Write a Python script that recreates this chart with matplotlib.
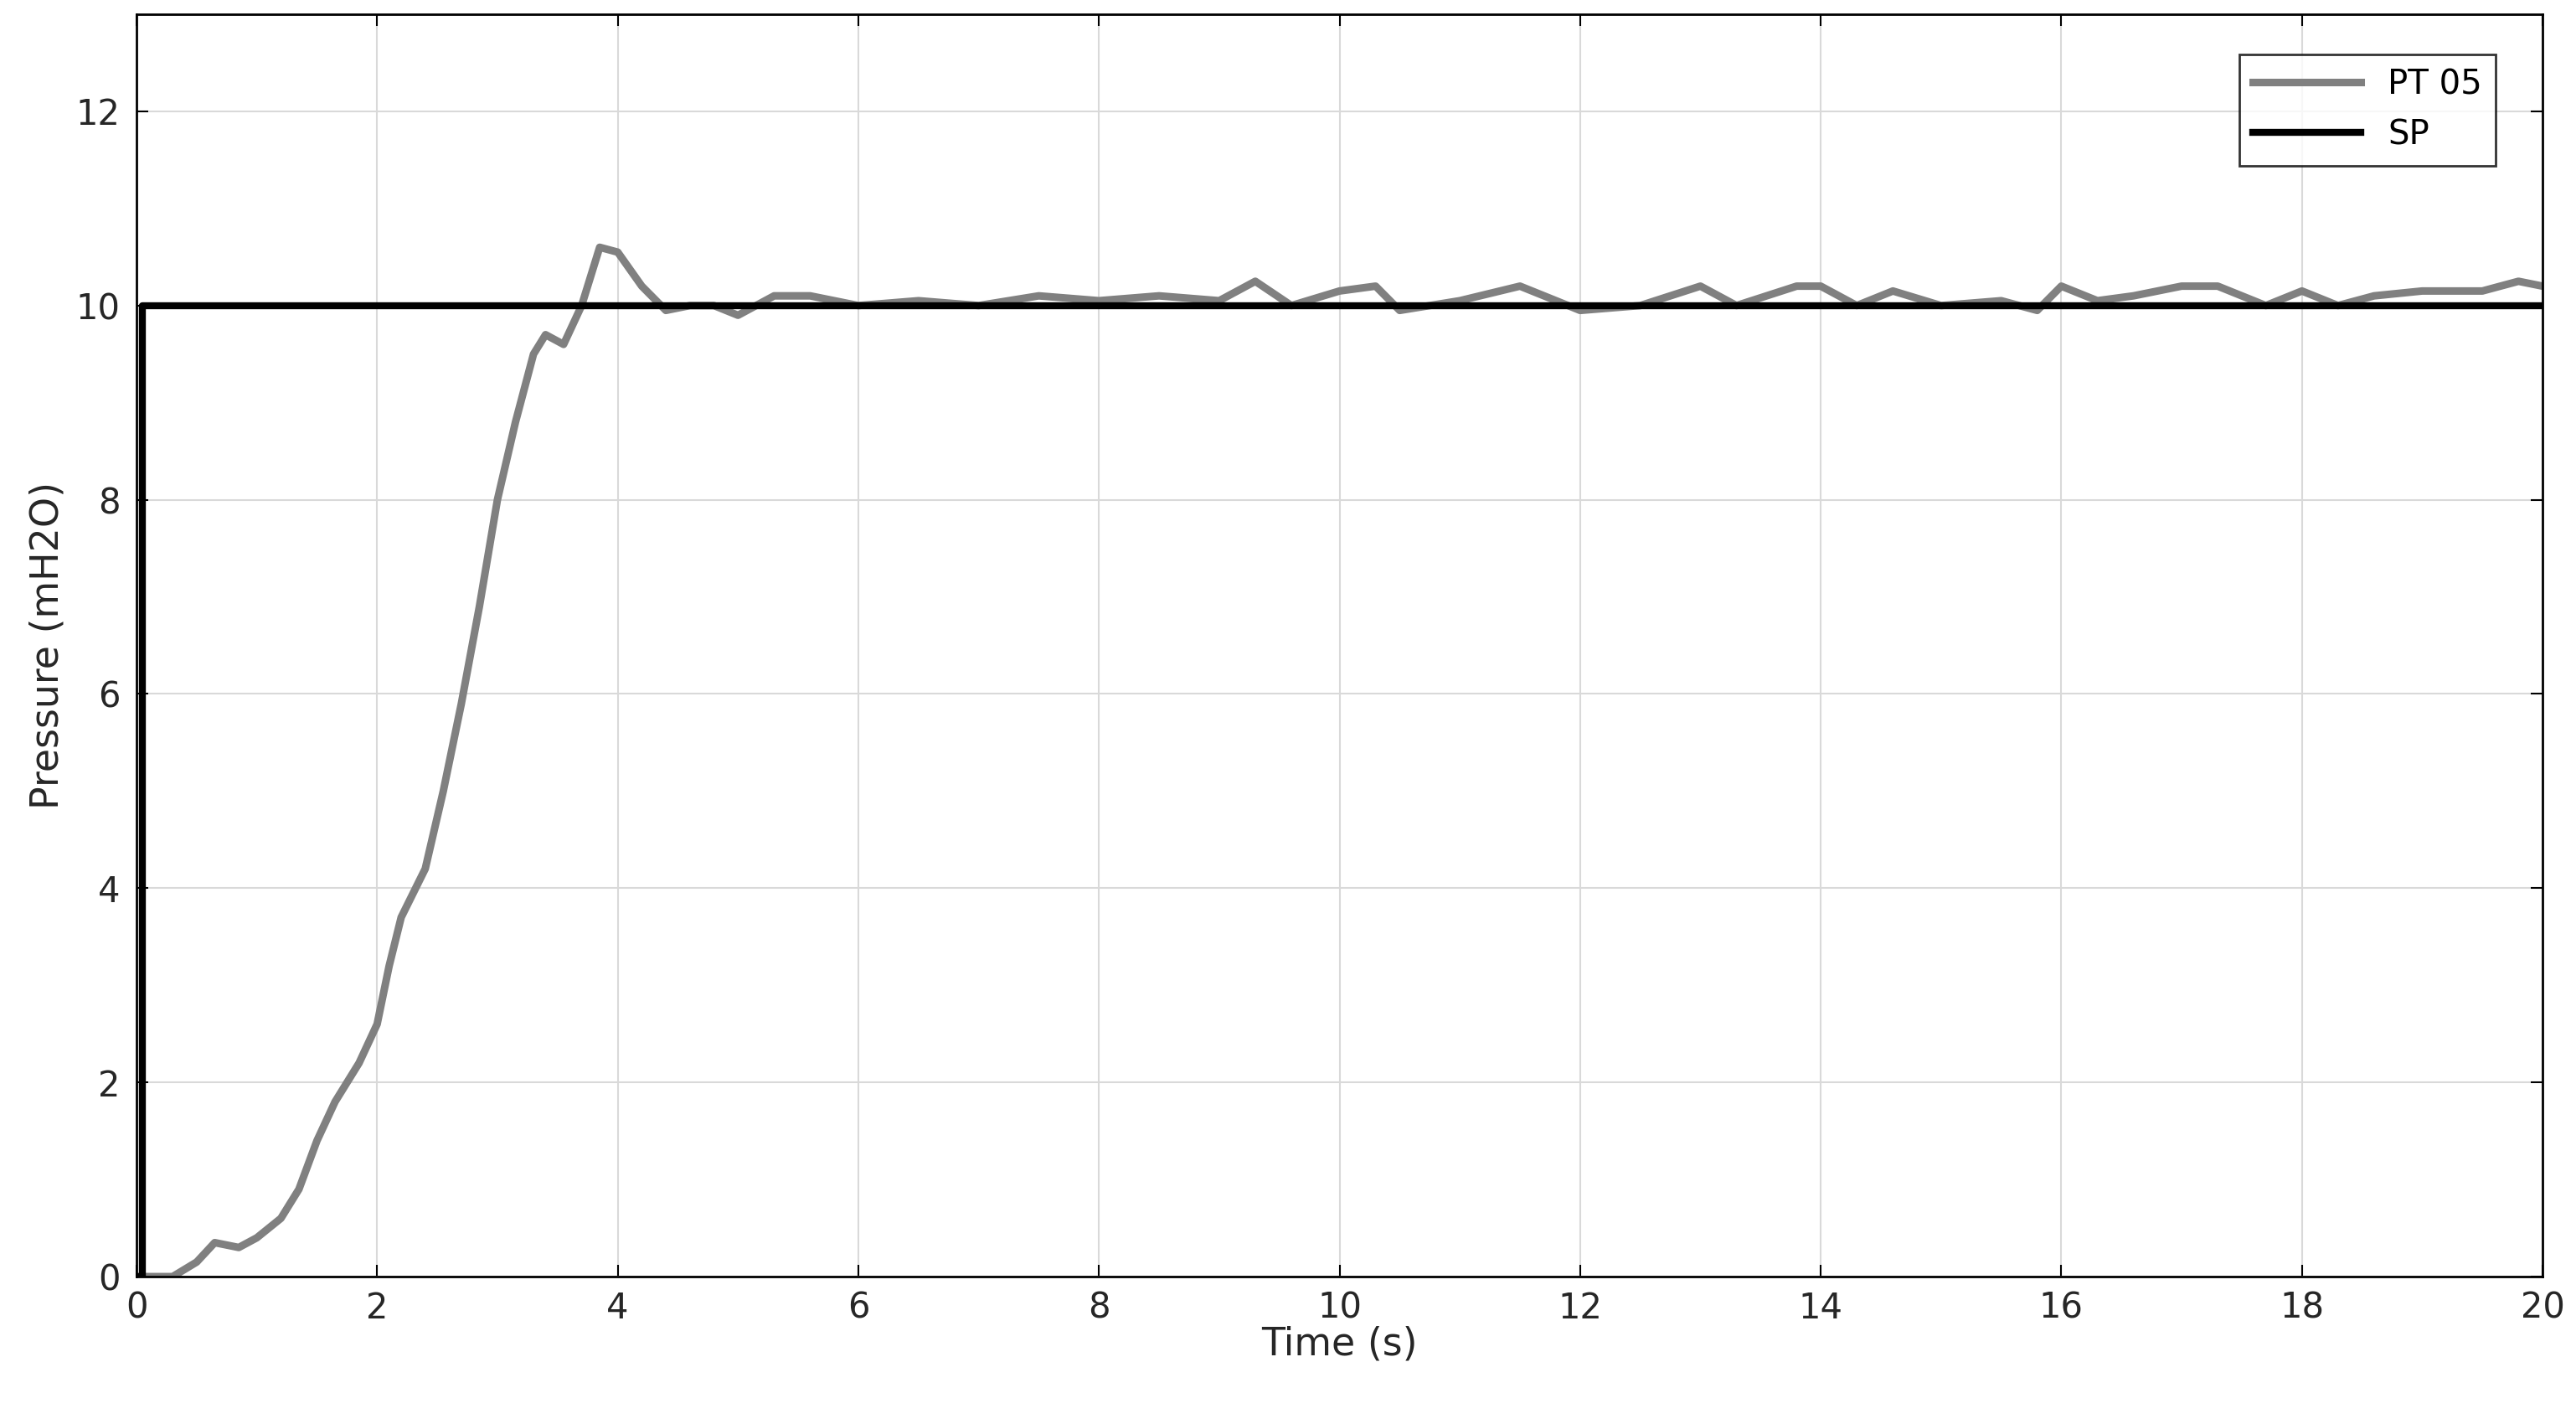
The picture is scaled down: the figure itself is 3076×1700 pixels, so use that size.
import matplotlib
matplotlib.use("Agg")
import matplotlib.pyplot as plt

pt_t = [0, 0.3, 0.5, 0.65, 0.85, 1.0, 1.2, 1.35, 1.5, 1.65, 1.85, 2.0, 2.1, 2.2, 2.4, 2.55, 2.7, 2.85, 3.0, 3.15, 3.3, 3.4, 3.55, 3.7, 3.85, 4.0, 4.2, 4.4, 4.6, 4.8, 5.0, 5.3, 5.6, 6.0, 6.5, 7.0, 7.5, 8.0, 8.5, 9.0, 9.3, 9.6, 10.0, 10.3, 10.5, 11.0, 11.5, 12.0, 12.5, 13.0, 13.3, 13.8, 14.0, 14.3, 14.6, 15.0, 15.5, 15.8, 16.0, 16.3, 16.6, 17.0, 17.3, 17.7, 18.0, 18.3, 18.6, 19.0, 19.5, 19.8, 20.0]
pt_v = [0, 0, 0.15, 0.35, 0.3, 0.4, 0.6, 0.9, 1.4, 1.8, 2.2, 2.6, 3.2, 3.7, 4.2, 5.0, 5.9, 6.9, 8.0, 8.8, 9.5, 9.7, 9.6, 10.0, 10.6, 10.55, 10.2, 9.95, 10.0, 10.0, 9.9, 10.1, 10.1, 10.0, 10.05, 10.0, 10.1, 10.05, 10.1, 10.05, 10.25, 10.0, 10.15, 10.2, 9.95, 10.05, 10.2, 9.95, 10.0, 10.2, 10.0, 10.2, 10.2, 10.0, 10.15, 10.0, 10.05, 9.95, 10.2, 10.05, 10.1, 10.2, 10.2, 10.0, 10.15, 10.0, 10.1, 10.15, 10.15, 10.25, 10.2]
sp_t = [0, 0.05, 0.05, 20]
sp_v = [0, 0, 10, 10]

fig = plt.figure(figsize=(30.76, 17), dpi=100)
ax = fig.add_axes([0.053, 0.1035, 0.934, 0.8865])
ax.plot(pt_t, pt_v, color="#808080", lw=6.5, label="PT 05", solid_joinstyle="round")
ax.plot(sp_t, sp_v, color="black", lw=6, label="SP")
ax.set_xlim(0, 20)
ax.set_ylim(0, 13)
ax.set_xticks(range(0, 21, 2))
ax.set_yticks(range(0, 13, 2))
ax.grid(True, color="#d9d9d9", lw=1.5)
ax.tick_params(labelsize=30, length=10, width=1.5, direction="in", top=True, right=True,
               labelcolor="#262626")
ax.tick_params(axis="x", pad=12)
ax.tick_params(axis="y", pad=14)
for s in ax.spines.values():
    s.set_linewidth(2)
ax.set_xlabel("Time (s)", fontsize=33, labelpad=0, color="#262626")
ax.set_ylabel("Pressure (mH2O)", fontsize=33, labelpad=8, color="#262626")
leg = ax.legend(loc="upper right", fontsize=29, fancybox=False, edgecolor="black",
                borderaxespad=0, handlelength=3.2, bbox_to_anchor=(0.9805, 0.968))
leg.get_frame().set_linewidth(2)
fig.savefig("out.png", dpi=100)
